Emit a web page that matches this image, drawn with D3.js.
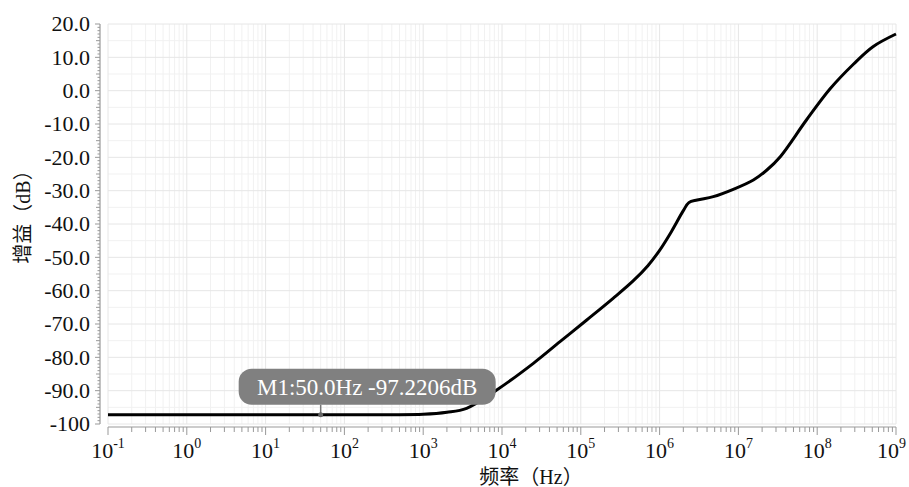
<!DOCTYPE html>
<html>
<head>
<meta charset="utf-8">
<script src="https://cdn.jsdelivr.net/npm/d3@7"></script>
<style>
  body { margin: 0; background: #fff; }
  text { font-family: "Liberation Serif", "Noto Sans CJK SC", serif; }
</style>
</head>
<body>
<script>
// frequency response
const freq = [0.1, 1, 10, 50, 100, 300, 1000, 2000, 3550, 8570, 2.5e4, 5.45e4, 1.19e5, 2.57e5,
  4.65e5, 7.1e5, 1e6, 1.41e6, 2.0e6, 2.35e6, 3.0e6, 4.8e6, 8.6e6, 1.55e7, 2.3e7, 3.4e7,
  7.3e7, 1.45e8, 2.9e8, 5.1e8, 1e9];
const gain = [-97.22, -97.22, -97.22, -97.22, -97.22, -97.2, -97.1, -96.5, -95.3, -89.8, -81.8, -75.3,
  -68.8, -62.3, -57.0, -52.5, -47.9, -42.3, -36.0, -33.6, -32.8, -31.8, -29.6, -26.8, -23.8, -19.8,
  -8.8, 0.5, 8.0, 13.2, 17.0];

const yTicks = [20, 10, 0, -10, -20, -30, -40, -50, -60, -70, -80, -90, -100];
const yTickLabels = ['20.0', '10.0', '0.0', '-10.0', '-20.0', '-30.0', '-40.0', '-50.0',
  '-60.0', '-70.0', '-80.0', '-90.0', '-100'];
const xDecades = [-1, 0, 1, 2, 3, 4, 5, 6, 7, 8, 9];

const marker = { name: 'M1', f: 50.0, db: -97.2206 };

const width = 909, height = 487;
const serif = '"Liberation Serif", "Times New Roman", serif';
const cjk = '"Liberation Serif", "Noto Sans CJK SC", serif';

const svg = d3.select('body').append('svg')
  .attr('width', width)
  .attr('height', height);

const x = d3.scaleLog().domain([0.1, 1e9]).range([108, 896]);
const y = d3.scaleLinear().domain([-100, 20]).range([424, 24]);

// minor values
const minorX = [];
xDecades.slice(0, -1).forEach(e => {
  for (let k = 2; k < 10; k++) minorX.push(k * Math.pow(10, e));
});
const dbMinor = d3.range(-100, 21, 1);
const dbHalf = d3.range(-95, 20, 10);

// grid
const grid = svg.append('g');
grid.selectAll('.gxm').data(minorX).enter().append('line')
  .attr('x1', d => x(d)).attr('x2', d => x(d))
  .attr('y1', y(20)).attr('y2', y(-100))
  .attr('stroke', '#f1f1f1').attr('stroke-width', 1);
grid.selectAll('.gyh').data(dbHalf).enter().append('line')
  .attr('x1', x(0.1)).attr('x2', x(1e9))
  .attr('y1', d => y(d)).attr('y2', d => y(d))
  .attr('stroke', '#f1f1f1').attr('stroke-width', 1);
grid.selectAll('.gx').data(xDecades).enter().append('line')
  .attr('x1', d => x(Math.pow(10, d))).attr('x2', d => x(Math.pow(10, d)))
  .attr('y1', y(20)).attr('y2', y(-100))
  .attr('stroke', '#e6e6e6').attr('stroke-width', 1);
grid.selectAll('.gy').data(yTicks).enter().append('line')
  .attr('x1', x(0.1)).attr('x2', x(1e9))
  .attr('y1', d => y(d)).attr('y2', d => y(d))
  .attr('stroke', '#e6e6e6').attr('stroke-width', 1);

// y axis
const yAxis = svg.append('g').attr('transform', 'translate(100,0)');
yAxis.append('line').attr('x1', 0).attr('x2', 0).attr('y1', y(20)).attr('y2', y(-100))
  .attr('stroke', '#999').attr('stroke-width', 1.2);
yAxis.selectAll('.tm').data(dbMinor).enter().append('line')
  .attr('x1', d => d % 10 === 0 ? -5 : (d % 5 === 0 ? -4 : -2.5)).attr('x2', 0)
  .attr('y1', d => y(d)).attr('y2', d => y(d))
  .attr('stroke', '#999').attr('stroke-width', 1);
yAxis.selectAll('.tl').data(yTicks).enter().append('text')
  .attr('x', -10).attr('y', d => y(d)).attr('dy', '0.34em')
  .attr('text-anchor', 'end').attr('font-size', 22).attr('fill', '#111')
  .attr('font-family', serif)
  .text((d, i) => yTickLabels[i]);

// x axis
const xAxis = svg.append('g').attr('transform', 'translate(0,427)');
xAxis.append('line').attr('x1', x(0.1)).attr('x2', x(1e9)).attr('y1', 0).attr('y2', 0)
  .attr('stroke', '#999').attr('stroke-width', 1.2);
xAxis.selectAll('.xm').data(minorX).enter().append('line')
  .attr('x1', d => x(d)).attr('x2', d => x(d)).attr('y1', 0).attr('y2', 5)
  .attr('stroke', '#999').attr('stroke-width', 1);
xAxis.selectAll('.xM').data(xDecades).enter().append('line')
  .attr('x1', d => x(Math.pow(10, d))).attr('x2', d => x(Math.pow(10, d))).attr('y1', 0).attr('y2', 8)
  .attr('stroke', '#999').attr('stroke-width', 1);
const last = xDecades[xDecades.length - 1];
const xl = xAxis.selectAll('.xl').data(xDecades).enter().append('text')
  .attr('x', d => d === last ? x(Math.pow(10, d)) + 10 : x(Math.pow(10, d)))
  .attr('y', 31)
  .attr('text-anchor', d => d === last ? 'end' : 'middle')
  .attr('font-size', 22).attr('fill', '#111')
  .attr('font-family', serif);
xl.append('tspan').text('10');
xl.append('tspan').attr('font-size', 14).attr('dy', -10).text(d => d);

// axis titles
svg.append('text')
  .attr('x', 531).attr('y', 484)
  .attr('text-anchor', 'middle').attr('font-size', 20).attr('fill', '#111')
  .attr('font-family', cjk)
  .text('频率（Hz）');
svg.append('text')
  .attr('transform', 'translate(30,212) rotate(-90)')
  .attr('text-anchor', 'middle').attr('font-size', 20).attr('fill', '#111')
  .attr('font-family', cjk)
  .text('增益（dB）');

// curve
const line = d3.line()
  .x((d, i) => x(freq[i]))
  .y(d => y(d))
  .curve(d3.curveCatmullRom.alpha(0.5));
svg.append('path')
  .datum(gain)
  .attr('d', line)
  .attr('fill', 'none')
  .attr('stroke', '#000')
  .attr('stroke-width', 3)
  .attr('stroke-linejoin', 'round');

// marker
const mx = x(marker.f), my = y(marker.db);
const mg = svg.append('g');
mg.append('line').attr('x1', mx).attr('x2', mx).attr('y1', my).attr('y2', my - 10)
  .attr('stroke', '#777').attr('stroke-width', 1.5);
mg.append('circle').attr('cx', mx).attr('cy', my).attr('r', 2.5).attr('fill', '#666');
mg.append('rect')
  .attr('x', mx - 82).attr('y', my - 46)
  .attr('width', 257).attr('height', 36)
  .attr('rx', 13).attr('fill', '#808080');
mg.append('text')
  .attr('x', mx - 82 + 128.5).attr('y', my - 20)
  .attr('text-anchor', 'middle').attr('font-size', 23).attr('fill', '#fff')
  .attr('font-family', serif)
  .text(`${marker.name}:${marker.f.toFixed(1)}Hz ${marker.db}dB`);
</script>
</body>
</html>
